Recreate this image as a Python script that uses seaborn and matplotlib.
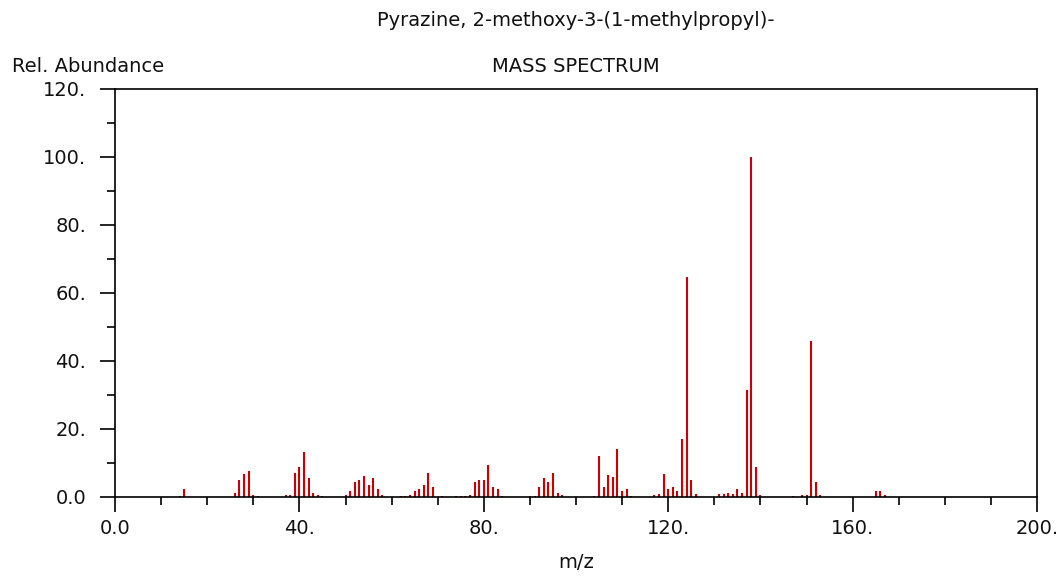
import matplotlib
matplotlib.use("Agg")
import matplotlib.pyplot as plt
import seaborn as sns
import pandas as pd
from matplotlib.ticker import MultipleLocator, FixedFormatter, FixedLocator

# ---- data ----
mz = [14, 15, 26, 27, 28, 29, 30, 31, 37, 38, 39, 40, 41, 42, 43, 44, 45,
      50, 51, 52, 53, 54, 55, 56, 57, 58, 62, 63, 64, 65, 66, 67, 68, 69,
      71, 74, 75, 76, 77, 78, 79, 80, 81, 82, 83, 84, 90, 91, 92, 93, 94,
      95, 96, 97, 104, 105, 106, 107, 108, 109, 110, 111, 112, 117, 118,
      119, 120, 121, 122, 123, 124, 125, 126, 131, 132, 133, 134, 135, 136,
      137, 138, 139, 140, 147, 149, 150, 151, 152, 153, 165, 166, 167]
abundance = [0.3, 2.4, 1.3, 5.0, 6.7, 7.7, 0.7, 0.2, 0.7, 0.7, 7.2, 8.8, 13.1,
             5.6, 1.3, 0.7, 0.2,
             0.7, 1.9, 4.5, 5.0, 6.1, 3.4, 5.6, 2.4, 0.7, 0.2, 0.3, 0.7, 1.9,
             2.4, 3.4, 7.2, 2.9,
             0.2, 0.2, 0.2, 0.3, 0.7, 4.5, 5.0, 5.0, 9.4, 2.9, 2.4, 0.2, 0.2,
             0.3, 2.9, 5.5, 4.5,
             7.2, 1.1, 0.7, 0.2, 12.0, 2.9, 6.6, 6.0, 14.2, 1.8, 2.4, 0.3, 0.5,
             0.9,
             6.7, 2.4, 2.9, 1.9, 17.0, 64.8, 5.1, 0.8, 0.8, 0.8, 1.3, 0.8, 2.4,
             1.3,
             31.5, 100.0, 8.8, 0.7, 0.2, 0.7, 0.7, 46.0, 4.5, 0.7, 1.8, 1.8, 0.7]

x_major = [0, 40, 80, 120, 160, 200]
x_labels = ["0.0", "40.", "80.", "120.", "160.", "200."]
y_major = [0, 20, 40, 60, 80, 100, 120]
y_labels = ["0.0", "20.", "40.", "60.", "80.", "100.", "120."]

title = "Pyrazine, 2-methoxy-3-(1-methylpropyl)-"
subtitle = "MASS SPECTRUM"
ylab = "Rel. Abundance"
xlab = "m/z"

sns.set_style("ticks")
plt.rcParams["font.family"] = ["DejaVu Sans"]
FS = 14
TXT = "#111111"

fig = plt.figure(figsize=(10.64, 5.77), dpi=100)
ax = fig.add_axes([115 / 1064, 1 - 497 / 577, (1037 - 115) / 1064, (497 - 89) / 577])

df = pd.DataFrame({"mz": mz, "abund": abundance})
ax.vlines(df["mz"], 0, df["abund"], colors="#cc0000", linewidth=1.5, zorder=2)

ax.set_xlim(0, 200)
ax.set_ylim(0, 120)
ax.set_xlabel("")
ax.set_ylabel("")

ax.xaxis.set_major_locator(FixedLocator(x_major))
ax.xaxis.set_major_formatter(FixedFormatter(x_labels))
ax.yaxis.set_major_locator(FixedLocator(y_major))
ax.yaxis.set_major_formatter(FixedFormatter(y_labels))
ax.xaxis.set_minor_locator(MultipleLocator(10))
ax.yaxis.set_minor_locator(MultipleLocator(10))

for s in ax.spines.values():
    s.set_visible(True)
    s.set_linewidth(1.2)
    s.set_color("black")
    s.set_zorder(3)

ax.tick_params(axis="both", which="major", direction="out", length=10.8,
               width=1.2, color="black", labelsize=FS, labelcolor=TXT)
ax.tick_params(axis="both", which="minor", direction="out", length=5.5,
               width=1.2, color="black")
ax.tick_params(axis="x", which="major", pad=5)
ax.tick_params(axis="y", which="major", pad=10)
ax.tick_params(top=False, right=False, which="both")

fig.text(576 / 1064, 1 - 20 / 577, title, ha="center", va="center",
         fontsize=FS, color=TXT)
fig.text(576 / 1064, 1 - 67 / 577, subtitle, ha="center", va="center",
         fontsize=FS, color=TXT)
fig.text(12 / 1064, 1 - 67 / 577, ylab, ha="left", va="center",
         fontsize=FS, color=TXT)
fig.text(576 / 1064, 1 - 563 / 577, xlab, ha="center", va="center",
         fontsize=FS, color=TXT)

fig.savefig("out.png", dpi=100)
